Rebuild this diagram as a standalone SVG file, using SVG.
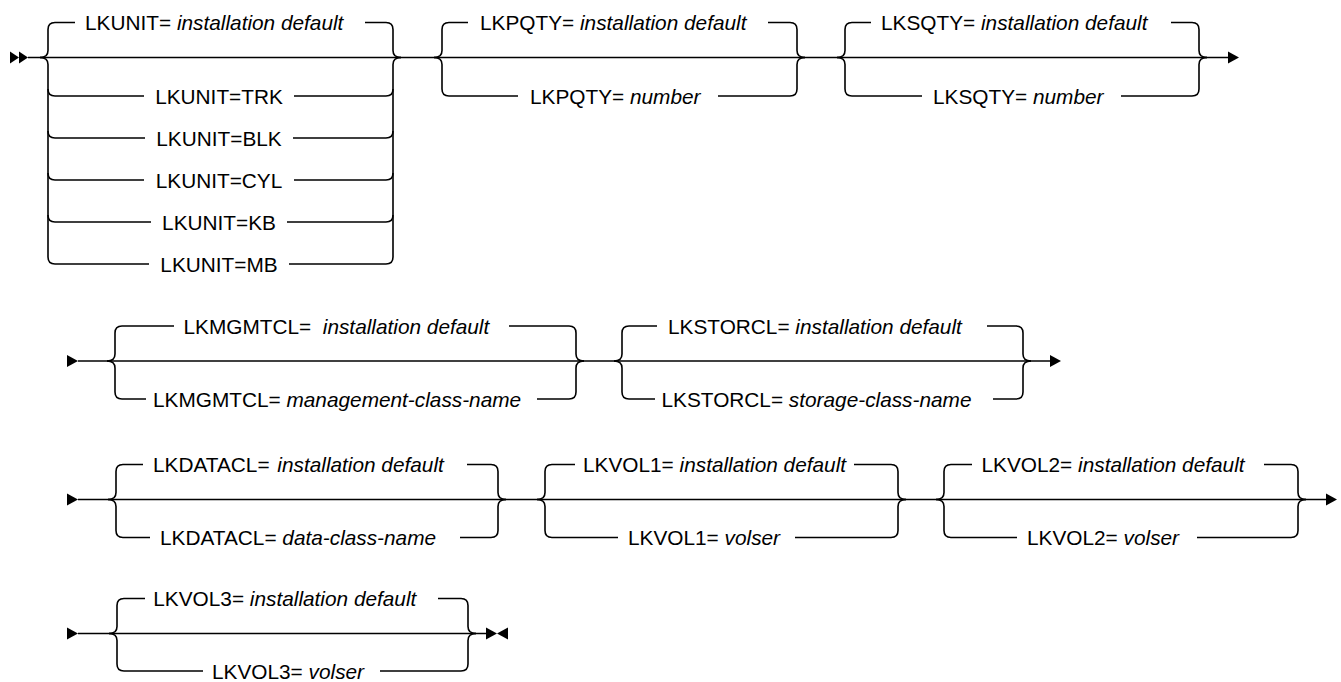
<svg xmlns="http://www.w3.org/2000/svg" width="1341" height="682" viewBox="0 0 1341 682">
<style>
.l{fill:none;stroke:#000;stroke-width:1.6}
.a{fill:#000}
text{font-family:"Liberation Sans",Arial,sans-serif;font-size:20.8px;fill:#000}
.i{font-style:italic}
.m{text-anchor:middle}
</style>
<rect width="1341" height="682" fill="#fff"/>
<g id="connectors">
<path class="l" d="M28,57.5 H1228"/>
<polygon class="a" points="10,51.5 19,57.5 10,63.5"/>
<polygon class="a" points="19,51.5 28,57.5 19,63.5"/>
<polygon class="a" points="1228,51.5 1239,57.5 1228,63.5"/>
<path class="l" d="M78,361 H1050"/>
<polygon class="a" points="67,355 78,361 67,367"/>
<polygon class="a" points="1050,355 1061,361 1050,367"/>
<path class="l" d="M78,499.5 H1326"/>
<polygon class="a" points="67,493.5 78,499.5 67,505.5"/>
<polygon class="a" points="1326,493.5 1337,499.5 1326,505.5"/>
<path class="l" d="M78,633.5 H486"/>
<polygon class="a" points="67,627.5 78,633.5 67,639.5"/>
<polygon class="a" points="486,627.5 497,633.5 486,639.5"/>
<polygon class="a" points="508,627.5 497,633.5 508,639.5"/>
</g>
<g id="lkunit">
<path class="l" d="M40,57.5 Q48,57.5 48,50.5 L48,29.5 Q48,22.5 55,22.5 L75,22.5 M365,22.5 L386,22.5 Q393,22.5 393,29.5 L393,50.5 Q393,57.5 401,57.5"/>
<path class="l" d="M40,57.5 Q48,57.5 48,64.5 L48,257 Q48,264 55,264 L149,264 M289,264 L386,264 Q393,264 393,257 L393,64.5 Q393,57.5 401,57.5"/>
<path class="l" d="M48,89 Q48,96 55,96 L144,96 M294,96 L386,96 Q393,96 393,89"/>
<path class="l" d="M48,131 Q48,138 55,138 L145,138 M293,138 L386,138 Q393,138 393,131"/>
<path class="l" d="M48,173 Q48,180 55,180 L144,180 M294,180 L386,180 Q393,180 393,173"/>
<path class="l" d="M48,215 Q48,222 55,222 L151,222 M287,222 L386,222 Q393,222 393,215"/>
<text x="85" y="30">LKUNIT= <tspan class="i">installation default</tspan></text>
<text class="m" x="219" y="103.5">LKUNIT=TRK</text>
<text class="m" x="219" y="145.5">LKUNIT=BLK</text>
<text class="m" x="219" y="187.5">LKUNIT=CYL</text>
<text class="m" x="219" y="229.5">LKUNIT=KB</text>
<text class="m" x="219" y="271.5">LKUNIT=MB</text>
</g>
<g id="lkpqty">
<path class="l" d="M434,57.5 Q442,57.5 442,50.5 L442,29.5 Q442,22.5 449,22.5 L468,22.5 M768,22.5 L790,22.5 Q797,22.5 797,29.5 L797,50.5 Q797,57.5 805,57.5"/>
<path class="l" d="M434,57.5 Q442,57.5 442,64.5 L442,89 Q442,96 449,96 L518,96 M718,96 L790,96 Q797,96 797,89 L797,64.5 Q797,57.5 805,57.5"/>
<text x="480" y="30">LKPQTY= <tspan class="i">installation default</tspan></text>
<text x="530" y="103.5">LKPQTY= <tspan class="i">number</tspan></text>
</g>
<g id="lksqty">
<path class="l" d="M837,57.5 Q845,57.5 845,50.5 L845,29.5 Q845,22.5 852,22.5 L871,22.5 M1171,22.5 L1192,22.5 Q1199,22.5 1199,29.5 L1199,50.5 Q1199,57.5 1207,57.5"/>
<path class="l" d="M837,57.5 Q845,57.5 845,64.5 L845,89 Q845,96 852,96 L922,96 M1121,96 L1192,96 Q1199,96 1199,89 L1199,64.5 Q1199,57.5 1207,57.5"/>
<text x="881" y="30">LKSQTY= <tspan class="i">installation default</tspan></text>
<text x="933" y="103.5">LKSQTY= <tspan class="i">number</tspan></text>
</g>
<g id="lkmgmtcl">
<path class="l" d="M107,361 Q115,361 115,354 L115,333 Q115,326 122,326 L174,326 M509,326 L569,326 Q576,326 576,333 L576,354 Q576,361 584,361"/>
<path class="l" d="M107,361 Q115,361 115,368 L115,392 Q115,399 122,399 L146,399 M537,399 L569,399 Q576,399 576,392 L576,368 Q576,361 584,361"/>
<text x="183.5" y="333.5">LKMGMTCL= <tspan class="i" dx="5.8">installation default</tspan></text>
<text x="153" y="406.5">LKMGMTCL= <tspan class="i">management-class-name</tspan></text>
</g>
<g id="lkstorcl">
<path class="l" d="M614,361 Q622,361 622,354 L622,333 Q622,326 629,326 L657,326 M987,326 L1016,326 Q1023,326 1023,333 L1023,354 Q1023,361 1031,361"/>
<path class="l" d="M614,361 Q622,361 622,368 L622,392 Q622,399 629,399 L655,399 M993,399 L1016,399 Q1023,399 1023,392 L1023,368 Q1023,361 1031,361"/>
<text x="668" y="333.5">LKSTORCL= <tspan class="i">installation default</tspan></text>
<text x="661.5" y="406.5">LKSTORCL= <tspan class="i">storage-class-name</tspan></text>
</g>
<g id="lkdatacl">
<path class="l" d="M108,499.5 Q116,499.5 116,492.5 L116,471.5 Q116,464.5 123,464.5 L143,464.5 M467,464.5 L491,464.5 Q498,464.5 498,471.5 L498,492.5 Q498,499.5 506,499.5"/>
<path class="l" d="M108,499.5 Q116,499.5 116,506.5 L116,530.5 Q116,537.5 123,537.5 L150,537.5 M460,537.5 L491,537.5 Q498,537.5 498,530.5 L498,506.5 Q498,499.5 506,499.5"/>
<text x="153" y="472">LKDATACL= <tspan class="i" dx="2">installation default</tspan></text>
<text x="160" y="545">LKDATACL= <tspan class="i">data-class-name</tspan></text>
</g>
<g id="lkvol1">
<path class="l" d="M537,499.5 Q545,499.5 545,492.5 L545,471.5 Q545,464.5 552,464.5 L575,464.5 M854,464.5 L891,464.5 Q898,464.5 898,471.5 L898,492.5 Q898,499.5 906,499.5"/>
<path class="l" d="M537,499.5 Q545,499.5 545,506.5 L545,530.5 Q545,537.5 552,537.5 L618,537.5 M795,537.5 L891,537.5 Q898,537.5 898,530.5 L898,506.5 Q898,499.5 906,499.5"/>
<text x="628" y="545">LKVOL1= <tspan class="i">volser</tspan></text>
<text x="583" y="472">LKVOL1= <tspan class="i">installation default</tspan></text>
</g>
<g id="lkvol2">
<path class="l" d="M936,499.5 Q944,499.5 944,492.5 L944,471.5 Q944,464.5 951,464.5 L972,464.5 M1264,464.5 L1291,464.5 Q1298,464.5 1298,471.5 L1298,492.5 Q1298,499.5 1306,499.5"/>
<path class="l" d="M936,499.5 Q944,499.5 944,506.5 L944,530.5 Q944,537.5 951,537.5 L1017,537.5 M1197,537.5 L1291,537.5 Q1298,537.5 1298,530.5 L1298,506.5 Q1298,499.5 1306,499.5"/>
<text x="981.5" y="472">LKVOL2= <tspan class="i">installation default</tspan></text>
<text x="1027" y="545">LKVOL2= <tspan class="i">volser</tspan></text>
</g>
<g id="lkvol3">
<path class="l" d="M109,633.5 Q117,633.5 117,626.5 L117,605.5 Q117,598.5 124,598.5 L145,598.5 M438,598.5 L461,598.5 Q468,598.5 468,605.5 L468,626.5 Q468,633.5 476,633.5"/>
<path class="l" d="M109,633.5 Q117,633.5 117,640.5 L117,664 Q117,671 124,671 L203,671 M380,671 L461,671 Q468,671 468,664 L468,640.5 Q468,633.5 476,633.5"/>
<text x="153.3" y="606">LKVOL3= <tspan class="i">installation default</tspan></text>
<text x="212" y="678.5">LKVOL3= <tspan class="i">volser</tspan></text>
</g>
</svg>
